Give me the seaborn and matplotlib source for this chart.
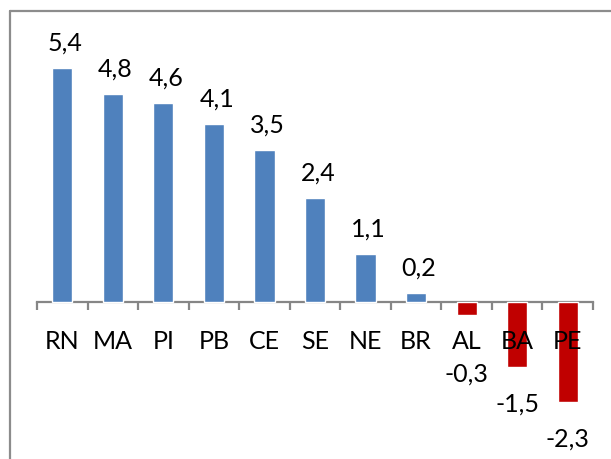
import matplotlib
matplotlib.use("Agg")
import matplotlib.pyplot as plt
from matplotlib.lines import Line2D
import seaborn as sns
import pandas as pd

# Variação por unidade da federação
states = ["RN", "MA", "PI", "PB", "CE", "SE", "NE", "BR", "AL", "BA", "PE"]
values = [5.4, 4.8, 4.6, 4.1, 3.5, 2.4, 1.1, 0.2, -0.3, -1.5, -2.3]

POS_COLOR = "#4F81BD"
NEG_COLOR = "#C00000"
AXIS_GRAY = "#868686"

sns.set_theme(style="white")
plt.rcParams["font.family"] = ["Lato", "DejaVu Sans"]

W, H, DPI = 611, 459, 100
FS = 18
fig = plt.figure(figsize=(W / DPI, H / DPI), dpi=DPI)

# plot area in pixel terms: x 37..593, y 42..432 (from top)
ax = fig.add_axes([37 / W, (H - 432) / H, 556 / W, 390 / H])

df = pd.DataFrame({"uf": states, "valor": values})
palette = {s: (POS_COLOR if v >= 0 else NEG_COLOR) for s, v in zip(states, values)}
sns.barplot(data=df, x="uf", y="valor", hue="uf", palette=palette,
            order=states, hue_order=states, width=0.4, legend=False,
            saturation=1, ax=ax)

ax.set_ylim(-3, 6)
ax.set_xlim(-0.5, len(states) - 0.5)
ax.set_xlabel("")
ax.set_ylabel("")
ax.set_yticks([])

# category names are written over the bars
ax.set_axisbelow(False)

for side in ("top", "right", "left"):
    ax.spines[side].set_visible(False)
ax.spines["bottom"].set_position(("data", 0))
ax.spines["bottom"].set_color(AXIS_GRAY)
ax.spines["bottom"].set_linewidth(1.6)
ax.spines["bottom"].set_zorder(0.5)

# category labels at bar centres, tick marks at category boundaries
ax.set_xticks(range(len(states)))
ax.set_xticklabels(states, fontsize=FS, color="#000000")
ax.tick_params(axis="x", which="major", length=0, pad=20)
ax.set_xticks([i - 0.5 for i in range(len(states) + 1)], minor=True)
ax.tick_params(axis="x", which="minor", length=6, width=1.6,
               color=AXIS_GRAY, direction="out", bottom=True)

def fmt(v):
    return f"{v:.1f}".replace(".", ",")

px_per_unit = 390 / 9.0
label_floor = -61 / px_per_unit  # keep negative labels clear of category names
for i, v in enumerate(values):
    if v >= 0:
        ax.annotate(fmt(v), xy=(i, v), xytext=(2, 12.5), textcoords="offset points",
                    ha="center", va="baseline", fontsize=FS, color="#000000")
    else:
        y = min(v, label_floor + 26 / px_per_unit)
        ax.annotate(fmt(v), xy=(i, y), xytext=(0, -18.5), textcoords="offset points",
                    ha="center", va="top", fontsize=FS, color="#000000")

# chart frame (left and top edges visible)
frame_kw = dict(color="#8C8C8C", linewidth=1.6, transform=fig.transFigure)
fig.add_artist(Line2D([10 / W, 10 / W], [0, 1 - 11 / H], **frame_kw))
fig.add_artist(Line2D([10 / W, 1.0], [1 - 11 / H, 1 - 11 / H], **frame_kw))

fig.savefig("out.png", dpi=DPI, facecolor="white")
